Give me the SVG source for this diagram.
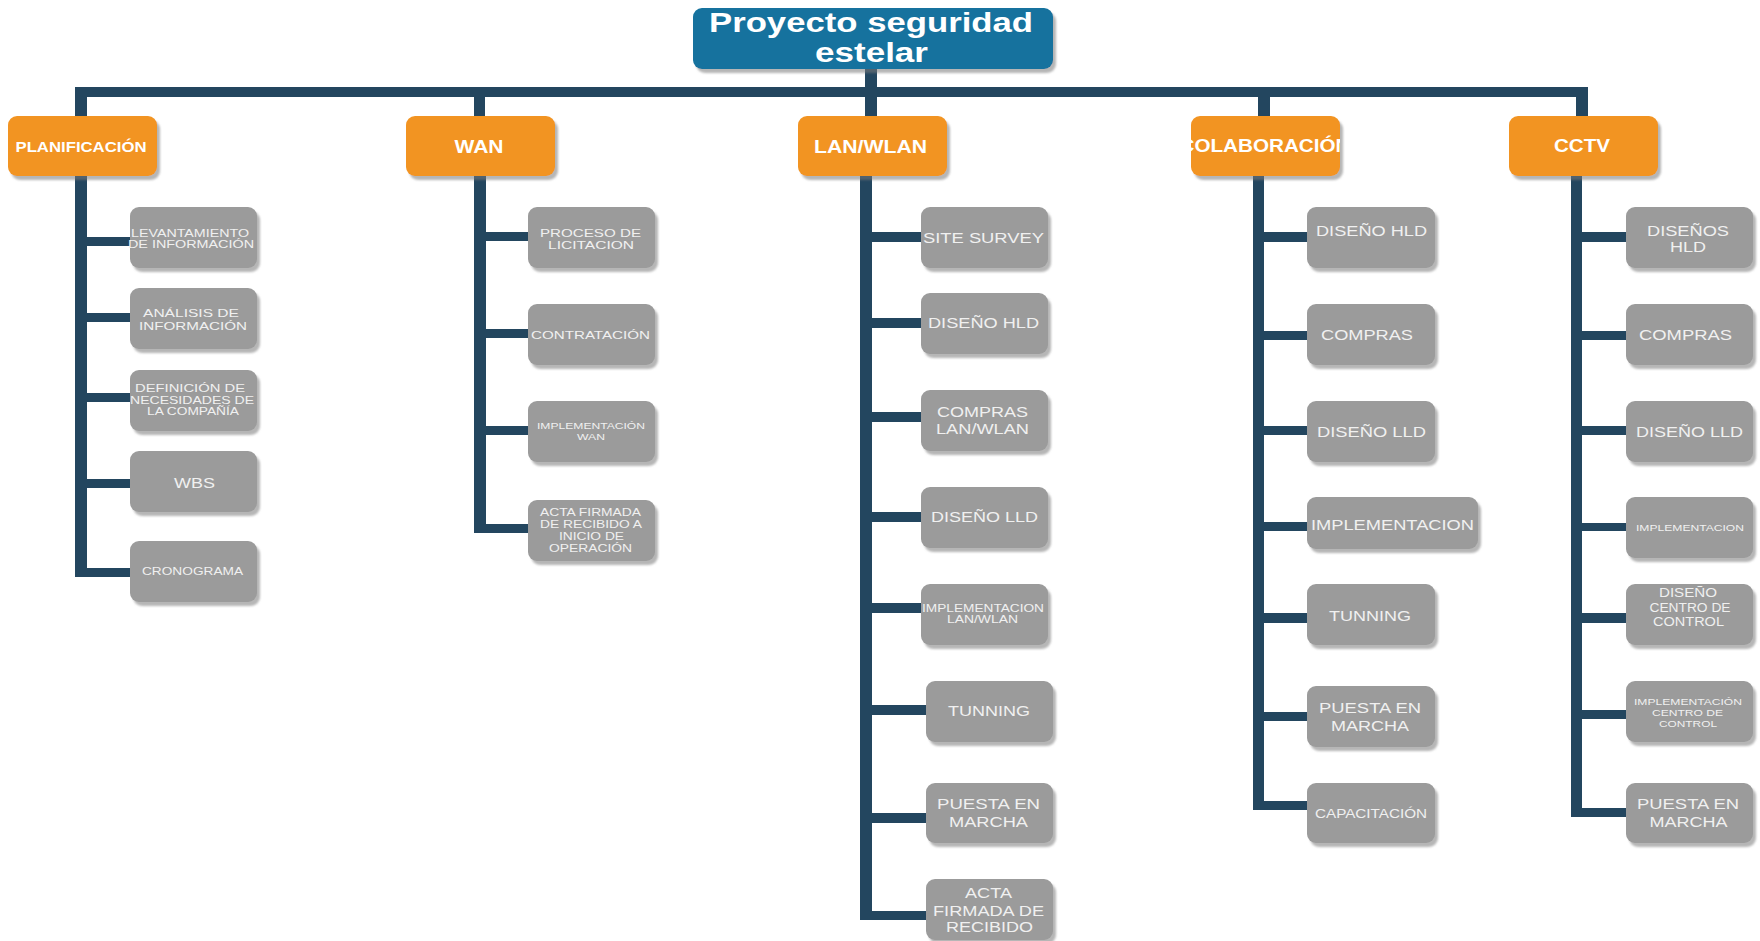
<svg xmlns="http://www.w3.org/2000/svg" width="1760" height="941" viewBox="0 0 1760 941">
<defs>
<filter id="sh" x="-10%" y="-10%" width="130%" height="140%">
<feDropShadow dx="3" dy="4" stdDeviation="1" flood-color="#7a7a7a" flood-opacity="0.55"/>
</filter>
<clipPath id="colabClip"><rect x="1191" y="116" width="149" height="60" rx="9"/></clipPath>
<style>
.root{fill:#13729E;filter:url(#sh)}
.l1{fill:#F29422;filter:url(#sh)}
.l2{fill:#9B9B9B;filter:url(#sh)}
.ln{fill:#23465F}
text{font-family:"Liberation Sans",Arial,sans-serif;text-anchor:middle}
.rt{fill:#FFFFFF;font-weight:bold;font-size:28px}
.t1{fill:#FFFFFF;font-weight:bold;font-size:18px}
.t2{fill:#F0F0F0}
</style>
</defs>
<rect width="1760" height="941" fill="#FFFFFF"/>

<g id="connectors">
<rect class="ln" x="865" y="69" width="12" height="47"/>
<rect class="ln" x="75" y="87" width="1513" height="10"/>
<!-- PLANIFICACION -->
<rect class="ln" x="75" y="87" width="12" height="29"/>
<rect class="ln" x="75" y="176" width="12" height="401"/>
<rect class="ln" x="75" y="237" width="55" height="9"/>
<rect class="ln" x="75" y="313" width="55" height="9"/>
<rect class="ln" x="75" y="393" width="55" height="9"/>
<rect class="ln" x="75" y="479" width="55" height="9"/>
<rect class="ln" x="75" y="568" width="55" height="9"/>
<!-- WAN -->
<rect class="ln" x="474" y="87" width="11" height="29"/>
<rect class="ln" x="474" y="176" width="12" height="357"/>
<rect class="ln" x="474" y="232" width="54" height="9"/>
<rect class="ln" x="474" y="329" width="54" height="9"/>
<rect class="ln" x="474" y="426" width="54" height="9"/>
<rect class="ln" x="474" y="524" width="54" height="9"/>
<!-- LAN/WLAN -->
<rect class="ln" x="860" y="176" width="12" height="744"/>
<rect class="ln" x="860" y="232" width="61" height="10"/>
<rect class="ln" x="860" y="318" width="61" height="10"/>
<rect class="ln" x="860" y="412" width="61" height="10"/>
<rect class="ln" x="860" y="512" width="61" height="10"/>
<rect class="ln" x="860" y="603" width="61" height="10"/>
<rect class="ln" x="860" y="705" width="66" height="10"/>
<rect class="ln" x="860" y="813" width="66" height="10"/>
<rect class="ln" x="860" y="911" width="66" height="9"/>
<!-- COLABORACION -->
<rect class="ln" x="1258" y="87" width="12" height="29"/>
<rect class="ln" x="1253" y="176" width="11" height="634"/>
<rect class="ln" x="1253" y="232" width="54" height="10"/>
<rect class="ln" x="1253" y="331" width="54" height="9"/>
<rect class="ln" x="1253" y="426" width="54" height="9"/>
<rect class="ln" x="1253" y="522" width="54" height="9"/>
<rect class="ln" x="1253" y="613" width="54" height="10"/>
<rect class="ln" x="1253" y="712" width="54" height="9"/>
<rect class="ln" x="1253" y="801" width="54" height="9"/>
<!-- CCTV -->
<rect class="ln" x="1576" y="87" width="12" height="29"/>
<rect class="ln" x="1571" y="176" width="11" height="641"/>
<rect class="ln" x="1571" y="232" width="55" height="10"/>
<rect class="ln" x="1571" y="331" width="55" height="9"/>
<rect class="ln" x="1571" y="426" width="55" height="9"/>
<rect class="ln" x="1571" y="523" width="55" height="8"/>
<rect class="ln" x="1571" y="613" width="55" height="10"/>
<rect class="ln" x="1571" y="710" width="55" height="9"/>
<rect class="ln" x="1571" y="808" width="55" height="9"/>
</g>

<g id="root">
<rect class="root" x="693" y="8" width="360" height="61" rx="9"/>
<text class="rt" x="871" y="32" textLength="324" lengthAdjust="spacingAndGlyphs">Proyecto seguridad</text>
<text class="rt" x="871.5" y="62" textLength="113" lengthAdjust="spacingAndGlyphs">estelar</text>
</g>

<g id="planificacion">
<rect class="l1" x="8" y="116" width="149" height="60" rx="9"/>
<text class="t1" x="81" y="152" style="font-size:14px" textLength="131" lengthAdjust="spacingAndGlyphs">PLANIFICACIÓN</text>
</g>
<g id="wan">
<rect class="l1" x="406" y="116" width="149" height="60" rx="9"/>
<text class="t1" x="479" y="153" textLength="49" lengthAdjust="spacingAndGlyphs">WAN</text>
</g>
<g id="lanwlan">
<rect class="l1" x="798" y="116" width="149" height="60" rx="9"/>
<text class="t1" x="870.5" y="153" textLength="113" lengthAdjust="spacingAndGlyphs">LAN/WLAN</text>
</g>
<g id="colaboracion">
<rect class="l1" x="1191" y="116" width="149" height="60" rx="9"/>
<g clip-path="url(#colabClip)">
<text class="t1" x="1265" y="152" textLength="171" lengthAdjust="spacingAndGlyphs">COLABORACIÓN</text>
</g>
</g>
<g id="cctv">
<rect class="l1" x="1509" y="116" width="149" height="60" rx="9"/>
<text class="t1" x="1582" y="152" textLength="56" lengthAdjust="spacingAndGlyphs">CCTV</text>
</g>

<!-- PLANIFICACION children -->
<g id="p1">
<rect class="l2" x="130" y="207" width="127" height="61" rx="9"/>
<text class="t2" x="190" y="237" font-size="11" textLength="118" lengthAdjust="spacingAndGlyphs">LEVANTAMIENTO</text>
<text class="t2" x="191" y="248" font-size="11" textLength="126" lengthAdjust="spacingAndGlyphs">DE INFORMACIÓN</text>
</g>
<g id="p2">
<rect class="l2" x="130" y="288" width="127" height="61" rx="9"/>
<text class="t2" x="191" y="317" font-size="11.5" textLength="96" lengthAdjust="spacingAndGlyphs">ANÁLISIS DE</text>
<text class="t2" x="193" y="330" font-size="11.5" textLength="108" lengthAdjust="spacingAndGlyphs">INFORMACIÓN</text>
</g>
<g id="p3">
<rect class="l2" x="130" y="370" width="127" height="61" rx="9"/>
<text class="t2" x="190" y="392" font-size="10.5" textLength="110" lengthAdjust="spacingAndGlyphs">DEFINICIÓN DE</text>
<text class="t2" x="192" y="404" font-size="10.5" textLength="124" lengthAdjust="spacingAndGlyphs">NECESIDADES DE</text>
<text class="t2" x="193" y="415" font-size="10.5" textLength="92" lengthAdjust="spacingAndGlyphs">LA COMPAÑÍA</text>
</g>
<g id="p4">
<rect class="l2" x="130" y="451" width="127" height="61" rx="9"/>
<text class="t2" x="194.5" y="488" font-size="15" textLength="41" lengthAdjust="spacingAndGlyphs">WBS</text>
</g>
<g id="p5">
<rect class="l2" x="130" y="541" width="127" height="61" rx="9"/>
<text class="t2" x="192.5" y="575" font-size="11" textLength="101" lengthAdjust="spacingAndGlyphs">CRONOGRAMA</text>
</g>

<!-- WAN children -->
<g id="w1">
<rect class="l2" x="528" y="207" width="127" height="61" rx="9"/>
<text class="t2" x="590.5" y="237" font-size="11.5" textLength="101" lengthAdjust="spacingAndGlyphs">PROCESO DE</text>
<text class="t2" x="591" y="249" font-size="11.5" textLength="86" lengthAdjust="spacingAndGlyphs">LICITACION</text>
</g>
<g id="w2">
<rect class="l2" x="528" y="304" width="127" height="61" rx="9"/>
<text class="t2" x="590.5" y="339" font-size="11.5" textLength="119" lengthAdjust="spacingAndGlyphs">CONTRATACIÓN</text>
</g>
<g id="w3">
<rect class="l2" x="528" y="401" width="127" height="61" rx="9"/>
<text class="t2" x="591" y="429" font-size="9" textLength="108" lengthAdjust="spacingAndGlyphs">IMPLEMENTACIÓN</text>
<text class="t2" x="591" y="440" font-size="9" textLength="28" lengthAdjust="spacingAndGlyphs">WAN</text>
</g>
<g id="w4">
<rect class="l2" x="528" y="500" width="127" height="61" rx="9"/>
<text class="t2" x="590.5" y="516" font-size="11" textLength="101" lengthAdjust="spacingAndGlyphs">ACTA FIRMADA</text>
<text class="t2" x="591" y="528" font-size="11" textLength="102" lengthAdjust="spacingAndGlyphs">DE RECIBIDO A</text>
<text class="t2" x="591.5" y="540" font-size="11" textLength="65" lengthAdjust="spacingAndGlyphs">INICIO DE</text>
<text class="t2" x="590.5" y="552" font-size="11" textLength="83" lengthAdjust="spacingAndGlyphs">OPERACIÓN</text>
</g>

<!-- LAN/WLAN children -->
<g id="l1">
<rect class="l2" x="921" y="207" width="127" height="61" rx="9"/>
<text class="t2" x="983.5" y="243" font-size="15" textLength="121" lengthAdjust="spacingAndGlyphs">SITE SURVEY</text>
</g>
<g id="l2">
<rect class="l2" x="921" y="293" width="127" height="61" rx="9"/>
<text class="t2" x="983.5" y="328" font-size="15" textLength="111" lengthAdjust="spacingAndGlyphs">DISEÑO HLD</text>
</g>
<g id="l3">
<rect class="l2" x="921" y="390" width="127" height="61" rx="9"/>
<text class="t2" x="982.5" y="417" font-size="15" textLength="91" lengthAdjust="spacingAndGlyphs">COMPRAS</text>
<text class="t2" x="982.5" y="434" font-size="15" textLength="93" lengthAdjust="spacingAndGlyphs">LAN/WLAN</text>
</g>
<g id="l4">
<rect class="l2" x="921" y="487" width="127" height="61" rx="9"/>
<text class="t2" x="984.5" y="522" font-size="15" textLength="107" lengthAdjust="spacingAndGlyphs">DISEÑO LLD</text>
</g>
<g id="l5">
<rect class="l2" x="921" y="584" width="127" height="61" rx="9"/>
<text class="t2" x="983" y="612" font-size="11" textLength="122" lengthAdjust="spacingAndGlyphs">IMPLEMENTACION</text>
<text class="t2" x="982.5" y="623" font-size="11" textLength="71" lengthAdjust="spacingAndGlyphs">LAN/WLAN</text>
</g>
<g id="l6">
<rect class="l2" x="926" y="681" width="127" height="61" rx="9"/>
<text class="t2" x="989" y="716" font-size="15" textLength="82" lengthAdjust="spacingAndGlyphs">TUNNING</text>
</g>
<g id="l7">
<rect class="l2" x="926" y="783" width="127" height="60" rx="9"/>
<text class="t2" x="988.5" y="809" font-size="15" textLength="103" lengthAdjust="spacingAndGlyphs">PUESTA EN</text>
<text class="t2" x="988.5" y="827" font-size="15" textLength="79" lengthAdjust="spacingAndGlyphs">MARCHA</text>
</g>
<g id="l8">
<rect class="l2" x="926" y="879" width="127" height="61" rx="9"/>
<text class="t2" x="988.5" y="898" font-size="15" textLength="47" lengthAdjust="spacingAndGlyphs">ACTA</text>
<text class="t2" x="988.5" y="916" font-size="15" textLength="111" lengthAdjust="spacingAndGlyphs">FIRMADA DE</text>
<text class="t2" x="989.5" y="932" font-size="15" textLength="87" lengthAdjust="spacingAndGlyphs">RECIBIDO</text>
</g>

<!-- COLABORACION children -->
<g id="c1">
<rect class="l2" x="1307" y="207" width="128" height="61" rx="9"/>
<text class="t2" x="1371.5" y="236" font-size="15" textLength="111" lengthAdjust="spacingAndGlyphs">DISEÑO HLD</text>
</g>
<g id="c2">
<rect class="l2" x="1307" y="304" width="128" height="61" rx="9"/>
<text class="t2" x="1367" y="340" font-size="15" textLength="92" lengthAdjust="spacingAndGlyphs">COMPRAS</text>
</g>
<g id="c3">
<rect class="l2" x="1307" y="401" width="128" height="61" rx="9"/>
<text class="t2" x="1371.5" y="437" font-size="15" textLength="109" lengthAdjust="spacingAndGlyphs">DISEÑO LLD</text>
</g>
<g id="c4">
<rect class="l2" x="1307" y="497" width="171" height="52" rx="9"/>
<text class="t2" x="1392.5" y="530" font-size="15" textLength="163" lengthAdjust="spacingAndGlyphs">IMPLEMENTACION</text>
</g>
<g id="c5">
<rect class="l2" x="1307" y="584" width="128" height="61" rx="9"/>
<text class="t2" x="1370" y="621" font-size="15" textLength="82" lengthAdjust="spacingAndGlyphs">TUNNING</text>
</g>
<g id="c6">
<rect class="l2" x="1307" y="686" width="128" height="61" rx="9"/>
<text class="t2" x="1370" y="713" font-size="15" textLength="102" lengthAdjust="spacingAndGlyphs">PUESTA EN</text>
<text class="t2" x="1370" y="731" font-size="15" textLength="78" lengthAdjust="spacingAndGlyphs">MARCHA</text>
</g>
<g id="c7">
<rect class="l2" x="1307" y="783" width="128" height="60" rx="9"/>
<text class="t2" x="1371" y="818" font-size="12" textLength="112" lengthAdjust="spacingAndGlyphs">CAPACITACIÓN</text>
</g>

<!-- CCTV children -->
<g id="v1">
<rect class="l2" x="1626" y="207" width="127" height="61" rx="9"/>
<text class="t2" x="1688" y="236" font-size="15" textLength="82" lengthAdjust="spacingAndGlyphs">DISEÑOS</text>
<text class="t2" x="1688" y="252" font-size="15" textLength="36" lengthAdjust="spacingAndGlyphs">HLD</text>
</g>
<g id="v2">
<rect class="l2" x="1626" y="304" width="127" height="61" rx="9"/>
<text class="t2" x="1685.5" y="340" font-size="15" textLength="93" lengthAdjust="spacingAndGlyphs">COMPRAS</text>
</g>
<g id="v3">
<rect class="l2" x="1626" y="401" width="127" height="61" rx="9"/>
<text class="t2" x="1689.5" y="437" font-size="15" textLength="107" lengthAdjust="spacingAndGlyphs">DISEÑO LLD</text>
</g>
<g id="v4">
<rect class="l2" x="1626" y="497" width="127" height="61" rx="9"/>
<text class="t2" x="1690" y="531" font-size="9.5" textLength="108" lengthAdjust="spacingAndGlyphs">IMPLEMENTACION</text>
</g>
<g id="v5">
<rect class="l2" x="1626" y="584" width="127" height="61" rx="9"/>
<text class="t2" x="1688" y="597" font-size="12.5" textLength="58" lengthAdjust="spacingAndGlyphs">DISEÑO</text>
<text class="t2" x="1690" y="612" font-size="12.5" textLength="81" lengthAdjust="spacingAndGlyphs">CENTRO DE</text>
<text class="t2" x="1688.5" y="626" font-size="12.5" textLength="71" lengthAdjust="spacingAndGlyphs">CONTROL</text>
</g>
<g id="v6">
<rect class="l2" x="1626" y="681" width="127" height="61" rx="9"/>
<text class="t2" x="1688" y="705" font-size="9" textLength="108" lengthAdjust="spacingAndGlyphs">IMPLEMENTACIÓN</text>
<text class="t2" x="1687.5" y="716" font-size="9" textLength="71" lengthAdjust="spacingAndGlyphs">CENTRO DE</text>
<text class="t2" x="1688" y="727" font-size="9" textLength="58" lengthAdjust="spacingAndGlyphs">CONTROL</text>
</g>
<g id="v7">
<rect class="l2" x="1626" y="783" width="127" height="60" rx="9"/>
<text class="t2" x="1688" y="809" font-size="15" textLength="102" lengthAdjust="spacingAndGlyphs">PUESTA EN</text>
<text class="t2" x="1688.5" y="827" font-size="15" textLength="78" lengthAdjust="spacingAndGlyphs">MARCHA</text>
</g>
</svg>
